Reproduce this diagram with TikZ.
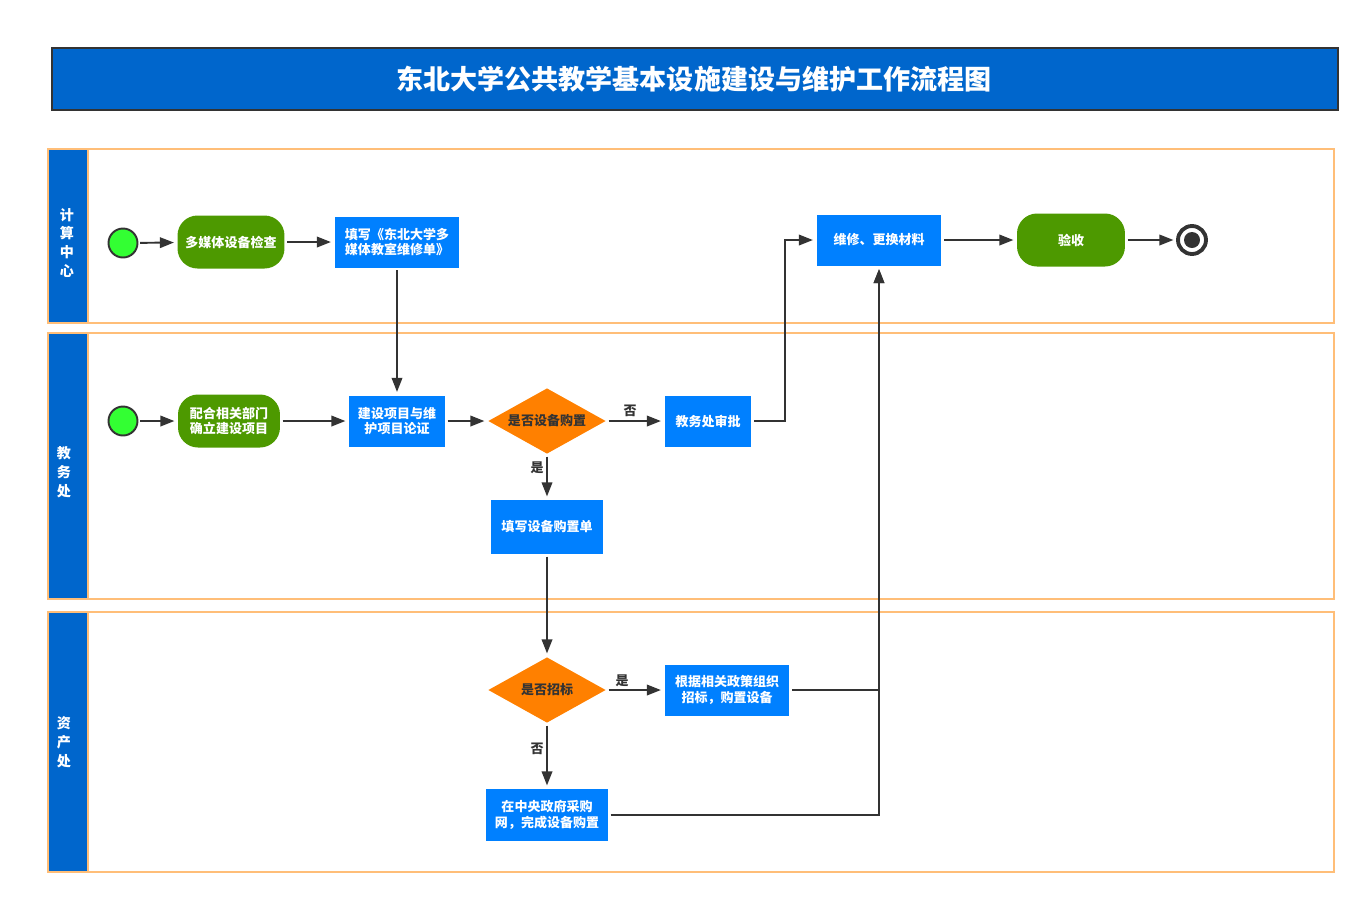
\documentclass[tikz,border=0pt]{standalone}
\usepackage{fontspec}
\setmainfont{Noto Sans CJK SC}
\usepackage{xcolor}
\usepackage{tikz}
\usetikzlibrary{shapes.geometric,arrows.meta}

\definecolor{laneblue}{RGB}{0,102,204}
\definecolor{boxblue}{RGB}{0,128,255}
\definecolor{boxgreen}{RGB}{77,153,0}
\definecolor{startgreen}{RGB}{51,255,51}
\definecolor{decorange}{RGB}{255,128,0}
\definecolor{laneorange}{RGB}{255,190,120}
\definecolor{darkline}{RGB}{51,51,51}

\begin{document}
\begin{tikzpicture}[x=0.02cm,y=-0.02cm,
>={Triangle[length=8pt,width=6pt]},
line width=1.1pt,draw=darkline,
boxtext/.style={font=\fontsize{7.4}{9}\selectfont\bfseries,text=white,align=center,inner sep=1pt},
task/.style={boxtext,rectangle,fill=boxblue,draw=none},
activity/.style={boxtext,rectangle,rounded corners=0.4cm,fill=boxgreen,draw=none},
decision/.style={boxtext,diamond,aspect=1.8,fill=decorange,draw=none,text=darkline,minimum width=2.36cm,minimum height=1.32cm,inner sep=0pt},
startnode/.style={circle,fill=startgreen,draw=darkline,minimum size=0.58cm},
lanelabel/.style={font=\fontsize{8}{10.8}\selectfont\bfseries,text=white,align=center},
edgelabel/.style={font=\fontsize{7.4}{9}\selectfont\bfseries,text=darkline},
link/.style={->,draw=darkline,shorten <=1pt,shorten >=1.5pt}
]
\useasboundingbox (0,0) rectangle (1370,904);

% The title
\draw[fill=laneblue,draw=darkline] (52,48) rectangle (1338,110);
\node[font=\fontsize{15.4}{18}\selectfont\bfseries,text=white] (title) at (694,79) {东北大学公共教学基本设施建设与维护工作流程图};

% The lanes
\draw[draw=laneorange,line width=0.8pt] (48,149) rectangle (1334,323);
\draw[draw=laneorange,line width=0.8pt,fill=laneblue] (48,149) rectangle (88,323);
\draw[draw=laneorange,line width=0.8pt] (48,333) rectangle (1334,599);
\draw[draw=laneorange,line width=0.8pt,fill=laneblue] (48,333) rectangle (88,599);
\draw[draw=laneorange,line width=0.8pt] (48,612) rectangle (1334,872);
\draw[draw=laneorange,line width=0.8pt,fill=laneblue] (48,612) rectangle (88,872);
\node[lanelabel] (lane1) at (67,243) {计\\算\\中\\心};
\node[lanelabel] (lane2) at (64,472) {教\\务\\处};
\node[lanelabel] (lane3) at (64,742) {资\\产\\处};

% The nodes
\node[startnode] (start1) at (123,243) {};
\node[activity,minimum width=2.14cm,minimum height=1.06cm] (check) at (231,242) {多媒体设备检查};
\node[task,minimum width=2.5cm,minimum height=1.02cm] (form) at (397,242) {填写《东北大学多\\媒体教室维修单》};
\node[task,minimum width=2.5cm,minimum height=1.02cm] (repair) at (879,240) {维修、更换材料};
\node[activity,minimum width=2.16cm,minimum height=1.06cm] (accept) at (1071,240) {验收};
\node[circle,draw=darkline,line width=2.2pt,minimum size=0.56cm] (stop) at (1192,240) {};
\fill[darkline] (stop) circle (8);

\node[startnode] (start2) at (123,421) {};
\node[activity,minimum width=2.04cm,minimum height=1.06cm] (project) at (229,421) {配合相关部门\\确立建设项目};
\node[task,minimum width=1.92cm,minimum height=1.02cm] (review) at (397,421) {建设项目与维\\护项目论证};
\node[decision] (buy) at (547,421) {是否设备购置};
\node[task,minimum width=1.74cm,minimum height=1.02cm] (approve) at (708,421) {教务处审批};
\node[task,minimum width=2.24cm,minimum height=1.08cm] (order) at (547,527) {填写设备购置单};

\node[decision] (tender) at (547,690) {是否招标};
\node[task,minimum width=2.5cm,minimum height=1.02cm] (bid) at (727,690) {根据相关政策组织\\招标，购置设备};
\node[task,minimum width=2.44cm,minimum height=1.04cm] (online) at (547,815) {在中央政府采购\\网，完成设备购置};

% The connectors
\draw[link] (start1) -- (check);
\draw[link] (check) -- (form);
\draw[link] (form) -- (review);
\draw[link] (repair) -- (accept);
\draw[link] (accept) -- (stop);
\draw[link] (start2) -- (project);
\draw[link] (project) -- (review);
\draw[link] (review) -- (buy);
\draw[link] (buy) -- (approve);
\draw[link] (approve.east) -- ++(33,0) |- (repair.west);
\draw[link] (buy) -- (order);
\draw[link] (order) -- (tender);
\draw[link] (tender) -- (bid);
\draw[link] (tender) -- (online);
\draw[link] (bid.east) -| (repair.south);
\draw[link] (online.east) -| (repair.south);

% The labels
\node[edgelabel] (no1) at (630,411) {否};
\node[edgelabel] (yes1) at (537,468) {是};
\node[edgelabel] (yes2) at (622,681) {是};
\node[edgelabel] (no2) at (537,749) {否};
\end{tikzpicture}
\end{document}
